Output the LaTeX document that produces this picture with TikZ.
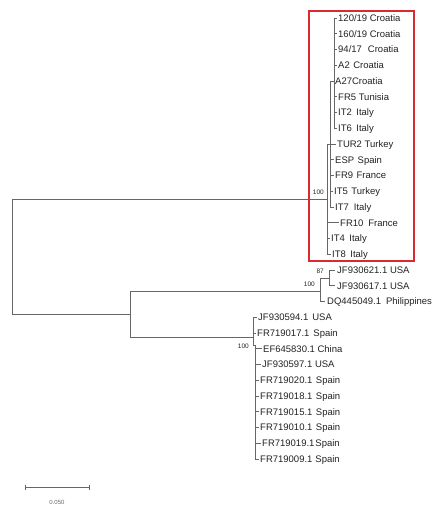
\documentclass[tikz,border=0pt]{standalone}
\usepackage{fontspec}
\setmainfont{Liberation Sans}
\definecolor{treegray}{HTML}{666666}
\definecolor{boxred}{HTML}{D82A30}
\definecolor{labelcol}{HTML}{222222}
\begin{document}
\begin{tikzpicture}[x=1pt,y=-1pt,
  br/.style={draw=treegray, line width=1pt},
  leaf/.style={anchor=west, inner sep=0pt, font=\fontsize{9.5}{10}\selectfont, text=labelcol, text height=6.8pt, text depth=0pt},
  boot/.style={anchor=east, inner sep=0pt, font=\fontsize{6.5}{7}\selectfont, text=labelcol},
  scalelab/.style={inner sep=0pt, font=\fontsize{6}{7}\selectfont, text=treegray},
  ]
\useasboundingbox (0,0) rectangle (433,506);

% leaves
\node[leaf] (n0)  at (338,18)     {120/19 Croatia};
\node[leaf] (n1)  at (338,33.75)  {160/19 Croatia};
\node[leaf] (n2)  at (338,49.5)   {94/17\hspace{6pt}Croatia};
\node[leaf] (n3)  at (338,65.25)  {A2\hspace{3.5pt}Croatia};
\node[leaf] (n4)  at (335,81)     {A27Croatia};
\node[leaf] (n5)  at (338,96.75)  {FR5 Tunisia};
\node[leaf] (n6)  at (338,112.5)  {IT2\hspace{4.5pt}Italy};
\node[leaf] (n7)  at (338,128.25) {IT6\hspace{4.5pt}Italy};
\node[leaf] (n8)  at (337,144)    {TUR2 Turkey};
\node[leaf] (n9)  at (335,159.75) {ESP\hspace{3.5pt}Spain};
\node[leaf] (n10) at (335,175.5)  {FR9\hspace{3.5pt}France};
\node[leaf] (n11) at (334,191.25) {IT5\hspace{3.5pt}Turkey};
\node[leaf] (n12) at (335,207)    {IT7\hspace{5pt}Italy};
\node[leaf] (n13) at (340,222.75) {FR10\hspace{5pt}France};
\node[leaf] (n14) at (331,238.5)  {IT4\hspace{4.5pt}Italy};
\node[leaf] (n15) at (332,254.25) {IT8\hspace{4.5pt}Italy};
\node[leaf] (n16) at (337,270)    {JF930621.1 USA};
\node[leaf] (n17) at (337,285.75) {JF930617.1 USA};
\node[leaf] (n18) at (327,301.5)  {DQ445049.1\hspace{5pt}Philippines};
\node[leaf] (n19) at (258,317.25) {JF930594.1\hspace{4pt}USA};
\node[leaf] (n20) at (257,333)    {FR719017.1\hspace{4pt}Spain};
\node[leaf] (n21) at (263,348.75) {EF645830.1 China};
\node[leaf] (n22) at (262,364.5)  {JF930597.1 USA};
\node[leaf] (n23) at (260,380.25) {FR719020.1\hspace{3.5pt}Spain};
\node[leaf] (n24) at (260,396)    {FR719018.1\hspace{3.5pt}Spain};
\node[leaf] (n25) at (260,411.75) {FR719015.1\hspace{3.5pt}Spain};
\node[leaf] (n26) at (260,427.5)  {FR719010.1\hspace{3.5pt}Spain};
\node[leaf] (n27) at (262,443.25) {FR719019.1\hspace{1pt}Spain};
\node[leaf] (n28) at (260,459)    {FR719009.1\hspace{3pt}Spain};

% internal nodes
\coordinate (R)  at (12,256);
\coordinate (T0) at (327,199);
\coordinate (T1) at (330,144);
\coordinate (T2) at (334,81);
\coordinate (L)  at (130,314);
\coordinate (M)  at (320,291);
\coordinate (M2) at (329,278);
\coordinate (B)  at (253,337);
\coordinate (B2) at (255,345);

% backbone
\draw[br] (R) |- (T0);
\draw[br] (R) |- (L);
\draw[br] (L) |- (M);
\draw[br] (L) |- (B);
\draw[br] (T0) |- (T1);
\draw[br] (T1) |- (T2);
\draw[br] (M) |- (M2);
\draw[br] (B) |- (B2);

% leaf branches
\foreach \i in {0,...,7} {\draw[br] (T2) |- ([xshift=-1.5pt]n\i.west);}
\foreach \i in {8,...,12} {\draw[br] (T1) |- ([xshift=-1.5pt]n\i.west);}
\foreach \i in {13,14,15} {\draw[br] (T0) |- ([xshift=-1.5pt]n\i.west);}
\foreach \i in {16,17} {\draw[br] (M2) |- ([xshift=-2pt]n\i.west);}
\draw[br] (M) |- ([xshift=-2pt]n18.west);
\foreach \i in {19,20} {\draw[br] (B) |- ([xshift=-1.5pt]n\i.west);}
\foreach \i in {21,...,28} {\draw[br] (B2) |- ([xshift=-1.5pt]n\i.west);}

% bootstrap values
\node[boot] (bs1) at (324,192) {100};
\node[boot] (bs2) at (324,271) {87};
\node[boot] (bs3) at (315,284) {100};
\node[boot] (bs4) at (249,346) {100};

% highlight box
\draw[boxred, line width=1.6pt] (309,11) rectangle (414,261);

% scale bar
\coordinate (s1) at (25,487);
\coordinate (s2) at (89,487);
\draw[br] (s1) -- (s2);
\draw[br] ([yshift=-2.5pt]s1) -- ([yshift=2.5pt]s1);
\draw[br] ([yshift=-2.5pt]s2) -- ([yshift=2.5pt]s2);
\node[scalelab] (sl) at (57,502) {0.050};
\end{tikzpicture}
\end{document}
